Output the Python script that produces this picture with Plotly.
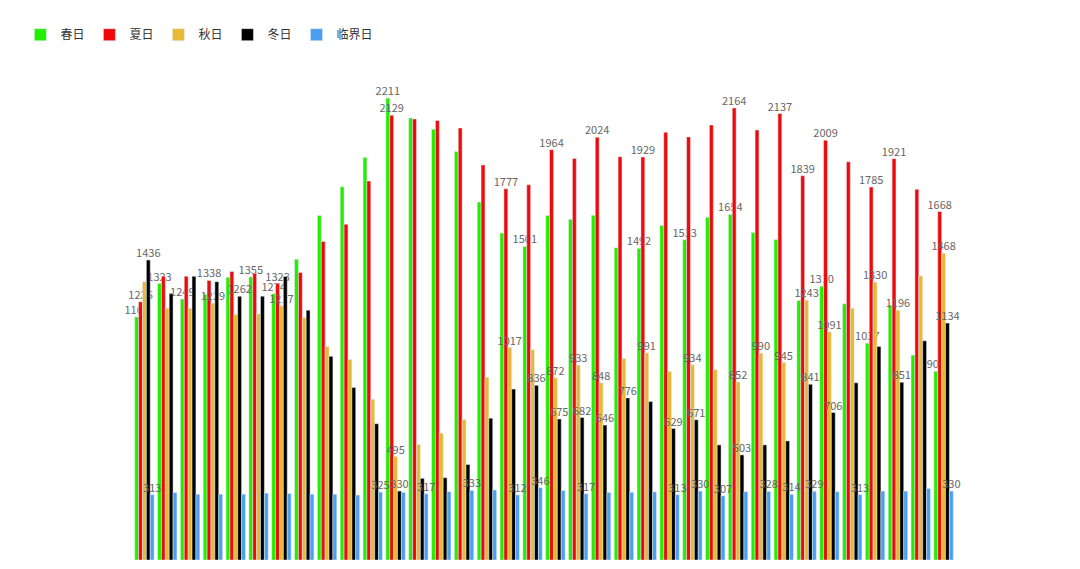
import plotly.graph_objects as go

categories = [f"G{i}" for i in range(1, 37)]

spring = [1163, 1323, 1249, 1272, 1353, 1355, 1274, 1439, 1649, 1786,
          1927, 2211, 2116, 2062, 1955, 1713, 1565, 1501, 1649, 1631,
          1650, 1495, 1492, 1601, 1533, 1640, 1654, 1567, 1534, 1242,
          1310, 1226, 1037, 1219, 981, 903]
summer = [1236, 1358, 1358, 1338, 1381, 1372, 1323, 1376, 1525, 1607,
          1814, 2129, 2111, 2104, 2068, 1891, 1777, 1796, 1964, 1922,
          2024, 1930, 1929, 2047, 2025, 2082, 2164, 2058, 2137, 1839,
          2009, 1906, 1785, 1921, 1774, 1668]
autumn = [1332, 1205, 1205, 1229, 1175, 1178, 1217, 1161, 1022, 960,
          769, 495, 553, 607, 673, 875, 1017, 1006, 872, 933,
          848, 965, 991, 902, 934, 911, 852, 990, 945, 1243,
          1091, 1205, 1330, 1196, 1359, 1468]
winter = [1436, 1275, 1358, 1332, 1262, 1263, 1357, 1196, 975, 826,
          652, 330, 391, 394, 457, 679, 818, 836, 675, 682,
          646, 776, 759, 629, 671, 551, 503, 551, 570, 841,
          706, 848, 1022, 851, 1049, 1134]
critical = [313, 323, 315, 315, 315, 320, 318, 315, 315, 311,
            325, 324, 317, 327, 333, 335, 312, 346, 332, 317,
            323, 324, 326, 313, 330, 307, 327, 328, 314, 329,
            327, 313, 330, 330, 342, 330]

# indices (0-based) of bars whose value label is visible in the reference
spring_lbl = {0, 1, 2, 5, 6, 11, 17, 22, 24, 26, 30, 32, 35}
summer_lbl = {0, 3, 6, 11, 16, 18, 20, 22, 26, 28, 29, 30, 32, 33, 35}
autumn_lbl = {3, 6, 11, 16, 18, 19, 20, 22, 24, 26, 27, 28, 29, 30, 32, 33, 35}
winter_lbl = {0, 4, 11, 17, 18, 19, 20, 21, 23, 24, 26, 29, 30, 33, 35}
critical_lbl = {0, 10, 12, 14, 16, 17, 19, 23, 24, 25, 27, 28, 29, 31, 35}

series = [
    ("春日", spring, spring_lbl, "#22ee00"),
    ("夏日", summer, summer_lbl, "#ee0a0a"),
    ("秋日", autumn, autumn_lbl, "#e8b935"),
    ("冬日", winter, winter_lbl, "#000000"),
    ("临界日", critical, critical_lbl, "#4a9ff0"),
]

fig = go.Figure()
for name, vals, lbl, color in series:
    fig.add_trace(go.Bar(
        x=categories, y=vals, name=name, marker_color=color,
        text=[str(v) if i in lbl else "" for i, v in enumerate(vals)],
        textposition="outside", cliponaxis=False,
        textfont=dict(size=11, color="#666666"),
    ))

fig.update_layout(
    width=1080, height=569, barmode="group", bargap=0.15, bargroupgap=0,
    plot_bgcolor="white", paper_bgcolor="white",
    font=dict(family="Noto Sans CJK SC", color="#333333", size=12),
    margin=dict(l=97, r=133, t=40, b=17),
    uniformtext=dict(minsize=8, mode="show"),
    legend=dict(orientation="h", x=-0.137, y=1.08, xanchor="left", yanchor="bottom",
                itemwidth=30, tracegroupgap=0, font=dict(size=12)),
)
fig.update_xaxes(visible=False)
fig.update_yaxes(visible=False, range=[0, 2264])
fig.write_html("out.html")
